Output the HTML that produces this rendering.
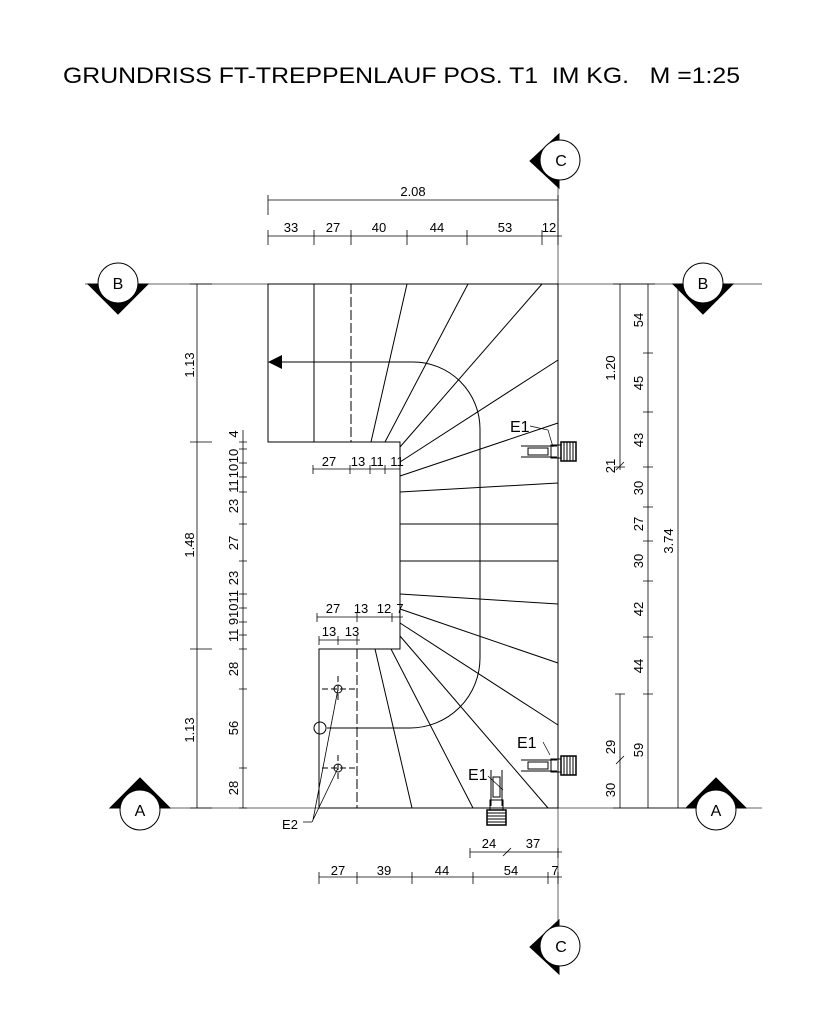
<!DOCTYPE html>
<html><head><meta charset="utf-8"><style>body{margin:0;background:#fff}svg{display:block}</style></head><body>
<svg width="819" height="1024" viewBox="0 0 819 1024" xmlns="http://www.w3.org/2000/svg" font-family="Liberation Sans, sans-serif">
<defs>
<g id="e1">
<line x1="0" y1="0" x2="36" y2="0" stroke="#000" stroke-width="1"/>
<line x1="0" y1="11" x2="36" y2="11" stroke="#000" stroke-width="1"/>
<rect x="7" y="2" width="20" height="7" fill="none" stroke="#000"/>
<rect x="30" y="-1" width="10" height="13" fill="none" stroke="#000"/>
<rect x="40" y="-4" width="15" height="19" fill="#fff" stroke="#000" stroke-width="1.5"/>
<path d="M43 -4v19M46 -4v19M49 -4v19M52 -4v19" stroke="#000"/>
</g>
</defs>
<text x="63" y="83" font-size="22" textLength="677" lengthAdjust="spacingAndGlyphs" style="white-space:pre" xml:space="preserve">GRUNDRISS FT-TREPPENLAUF POS. T1  IM KG.   M =1:25</text>

<g stroke="#000" stroke-width="1" fill="none">
<line x1="85" y1="284" x2="762" y2="284" stroke="#666"/>
<line x1="110" y1="808" x2="762" y2="808" stroke="#666"/>
<line x1="558" y1="140" x2="558" y2="970" stroke="#666"/>
<path d="M268 284H558V808H319V649H400V442H268Z"/>
<line x1="314" y1="284" x2="314" y2="442"/>
<line x1="351" y1="284" x2="351" y2="442" stroke-dasharray="10 3"/>
<line x1="357" y1="649" x2="357" y2="808" stroke-dasharray="10 3"/>
<line x1="407" y1="284" x2="371" y2="442"/>
<line x1="468" y1="284" x2="385" y2="442"/>
<line x1="542" y1="284" x2="400" y2="447"/>
<line x1="558" y1="360" x2="400" y2="462"/>
<line x1="558" y1="423" x2="400" y2="476"/>
<line x1="558" y1="483" x2="400" y2="492"/>
<line x1="558" y1="524" x2="400" y2="524"/>
<line x1="558" y1="561" x2="400" y2="561"/>
<line x1="558" y1="604" x2="400" y2="594"/>
<line x1="558" y1="663" x2="400" y2="609"/>
<line x1="558" y1="725" x2="400" y2="623"/>
<line x1="548" y1="808" x2="400" y2="636"/>
<line x1="473" y1="808" x2="391" y2="649"/>
<line x1="412" y1="808" x2="375" y2="649"/>
<path d="M282 362H413A67 67 0 0 1 480 429V658A70 70 0 0 1 410 728H327"/>
<circle cx="320" cy="728" r="6"/>
<circle cx="338" cy="689" r="4"/><circle cx="338" cy="768" r="4"/>
<path d="M322 689H357M338 676V702M322 768H357M338 755V781" stroke-dasharray="6 3"/>
<path d="M338 689L313 820M338 768L312 822M303 822H312" stroke-width="0.8"/>
<line x1="197" y1="284" x2="197" y2="808" stroke-width="0.8"/>
<path d="M190 284H212M190 442H212M190 649H212M190 808H212" stroke-width="0.8"/>
<line x1="243" y1="430" x2="243" y2="808" stroke-width="0.8"/>
<path d="M239 442H247M239 449H247M239 463H247M239 477H247M239 492H247M239 524H247M239 561H247M239 594H247M239 608H247M239 622H247M239 635H247M239 649H247M239 689H247M239 768H247M239 808H247" stroke-width="0.8"/>
<line x1="620" y1="284" x2="620" y2="470" stroke-width="0.8"/>
<line x1="620" y1="694" x2="620" y2="808" stroke-width="0.8"/>
<line x1="648" y1="284" x2="648" y2="808" stroke-width="0.8"/>
<line x1="678" y1="284" x2="678" y2="808" stroke-width="0.8"/>
<path d="M613 284H655M615 467H625M615 694H625M613 808H685M643 353H653M643 412H653M643 467H653M643 507H653M643 541H653M643 581H653M643 637H653M643 694H653" stroke-width="0.8"/>
<line x1="268" y1="200" x2="558" y2="200" stroke-width="0.8"/>
<line x1="268" y1="236" x2="562" y2="236" stroke-width="0.8"/>
<path d="M268 195V215M268 230V245M314 230V245M351 230V245M407 230V245M467 230V245M542 230V245M558 195V245" stroke-width="0.8"/>
<line x1="313" y1="469" x2="400" y2="469" stroke-width="0.8"/>
<path d="M313 465V474M350 465V474M370 465V474M385 465V474M400 465V474" stroke-width="0.8"/>
<line x1="317" y1="617" x2="403" y2="617" stroke-width="0.8"/>
<path d="M317 613V622M357 613V622M392 613V622M400 613V622" stroke-width="0.8"/>
<line x1="319" y1="640" x2="360" y2="640" stroke-width="0.8"/>
<path d="M319 636V645M338 636V645M357 636V645" stroke-width="0.8"/>
<line x1="470" y1="852" x2="562" y2="852" stroke-width="0.8"/>
<path d="M470 848V858M558 848V858M503 856L511 848" stroke-width="0.8"/>
<line x1="319" y1="877" x2="562" y2="877" stroke-width="0.8"/>
<path d="M319 872V884M357 872V884M412 872V884M473 872V884M548 872V884M558 872V884" stroke-width="0.8"/>
<path d="M616 470L624 462M616 764L624 756" stroke-width="0.8"/>
<path d="M530 426L548 430L553 447M543 742L550 755M488 776L503 790" stroke-width="0.7"/>
</g>
<polygon points="268,362 282,355 282,369" fill="#000"/>
<use href="#e1" x="521" y="446"/>
<use href="#e1" x="521" y="760"/>
<use href="#e1" transform="translate(502,770) rotate(90)"/>

<g stroke="#000" stroke-width="1">
<polygon points="559,134 530,161 559,188" fill="#000"/><circle cx="560" cy="160" r="20" fill="#fff"/>
<polygon points="559,920 530,947 559,974" fill="#000"/><circle cx="560" cy="946" r="20" fill="#fff"/>
<polygon points="88,284 118,314 148,284" fill="#000"/><circle cx="118" cy="283" r="20" fill="#fff"/>
<polygon points="673,284 703,314 733,284" fill="#000"/><circle cx="703" cy="283" r="20" fill="#fff"/>
<polygon points="110,808 140,778 170,808" fill="#000"/><circle cx="140" cy="810" r="20" fill="#fff"/>
<polygon points="686,808 716,778 746,808" fill="#000"/><circle cx="716" cy="810" r="20" fill="#fff"/>
</g>
<g font-size="16" text-anchor="middle">
<text x="561" y="166">C</text><text x="561" y="952">C</text>
<text x="118" y="289">B</text><text x="703" y="289">B</text>
<text x="140" y="816">A</text><text x="716" y="816">A</text>
</g>

<g font-size="13" text-anchor="middle">
<text x="413" y="196">2.08</text>
<text x="291" y="232">33</text><text x="333" y="232">27</text><text x="379" y="232">40</text><text x="437" y="232">44</text><text x="505" y="232">53</text><text x="549" y="232">12</text>
<text x="329" y="466">27</text><text x="358" y="466">13</text><text x="377" y="466">11</text><text x="397" y="466">11</text>
<text x="333" y="613">27</text><text x="361" y="613">13</text><text x="384" y="613">12</text><text x="400" y="613">7</text>
<text x="329" y="636">13</text><text x="352" y="636">13</text>
<text x="489" y="848">24</text><text x="533" y="848">37</text>
<text x="338" y="875">27</text><text x="384" y="875">39</text><text x="442" y="875">44</text><text x="511" y="875">54</text><text x="555" y="875">7</text>
<text x="290" y="829">E2</text>
</g>
<g font-size="16"><text x="510" y="432">E1</text><text x="517" y="748">E1</text><text x="468" y="780">E1</text></g>
<g font-size="13" text-anchor="middle">
<text transform="translate(194,365) rotate(-90)">1.13</text>
<text transform="translate(194,545) rotate(-90)">1.48</text>
<text transform="translate(194,730) rotate(-90)">1.13</text>
<text transform="translate(238,434) rotate(-90)">4</text>
<text transform="translate(238,456) rotate(-90)">10</text>
<text transform="translate(238,471) rotate(-90)">10</text>
<text transform="translate(238,486) rotate(-90)">11</text>
<text transform="translate(238,506) rotate(-90)">23</text>
<text transform="translate(238,543) rotate(-90)">27</text>
<text transform="translate(238,578) rotate(-90)">23</text>
<text transform="translate(238,604) rotate(-90)">1011</text>
<text transform="translate(238,630) rotate(-90)">11 9</text>
<text transform="translate(238,669) rotate(-90)">28</text>
<text transform="translate(238,728) rotate(-90)">56</text>
<text transform="translate(238,788) rotate(-90)">28</text>
<text transform="translate(615,368) rotate(-90)">1.20</text>
<text transform="translate(615,466) rotate(-90)">21</text>
<text transform="translate(615,747) rotate(-90)">29</text>
<text transform="translate(615,790) rotate(-90)">30</text>
<text transform="translate(643,320) rotate(-90)">54</text>
<text transform="translate(643,383) rotate(-90)">45</text>
<text transform="translate(643,440) rotate(-90)">43</text>
<text transform="translate(643,488) rotate(-90)">30</text>
<text transform="translate(643,524) rotate(-90)">27</text>
<text transform="translate(643,561) rotate(-90)">30</text>
<text transform="translate(643,609) rotate(-90)">42</text>
<text transform="translate(643,666) rotate(-90)">44</text>
<text transform="translate(643,750) rotate(-90)">59</text>
<text transform="translate(673,541) rotate(-90)">3.74</text>
</g>
</svg>
</body></html>
